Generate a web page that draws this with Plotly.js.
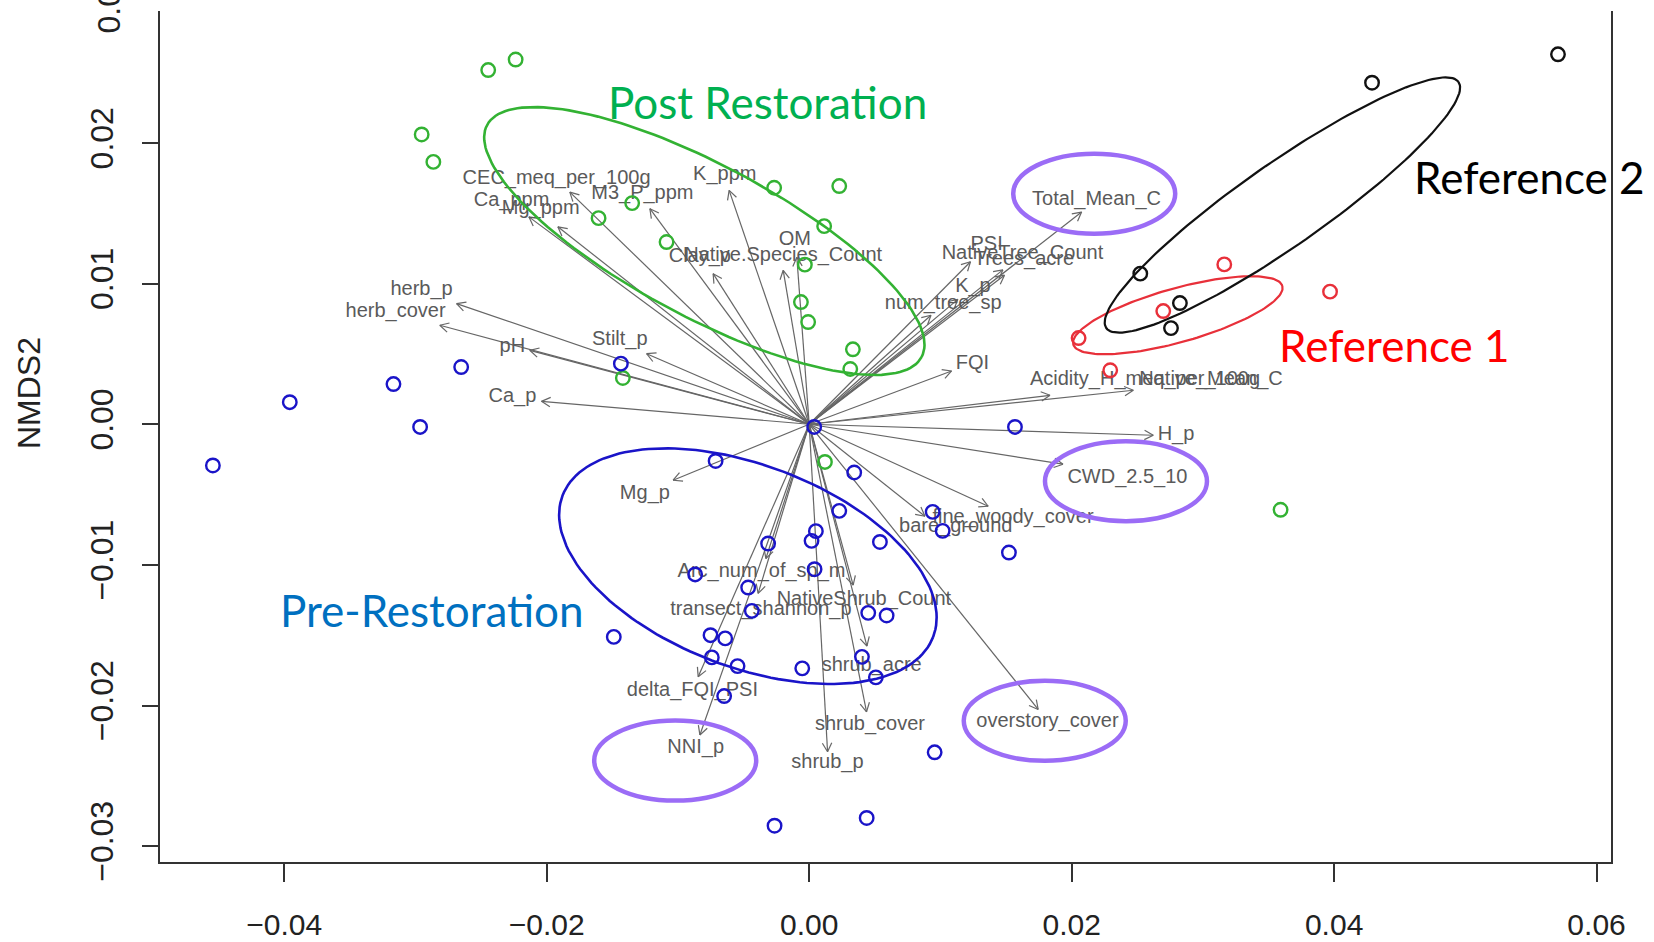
<!DOCTYPE html>
<html><head><meta charset="utf-8">
<script src="https://cdn.plot.ly/plotly-3.0.1.min.js"></script>
<style>html,body{margin:0;padding:0;background:#fff;overflow:hidden}#plot{width:1654px;height:942px}</style>
</head><body><div id="plot"></div>
<script>
// ---- site scores (NMDS1, NMDS2) ----
const postX = [-0.02446,-0.02237,-0.02953,-0.02864,-0.01605,-0.01349,-0.01087,-0.00267,0.00229,0.00114,-0.00033,-0.00063,-0.00008,0.00333,0.00313,-0.0142,0.0012,0.03592];
const postY = [0.02519,0.02594,0.02061,0.01866,0.01466,0.01573,0.01296,0.01682,0.01694,0.01409,0.01135,0.00869,0.00727,0.00533,0.00393,0.00329,-0.00268,-0.00608];
const preX = [-0.04544,-0.03958,-0.03168,-0.02965,-0.02652,-0.01435,0.00038,0.01568,-0.00713,0.00343,0.00229,0.00941,0.01017,0.01522,0.00051,0.00018,-0.00313,0.00539,-0.00869,0.00041,-0.00465,-0.00437,0.0045,0.0059,-0.01489,-0.00752,-0.0064,-0.00742,-0.00546,-0.00053,0.00402,0.00508,-0.00648,0.00956,-0.00264,0.00438];
const preY = [-0.00293,0.00157,0.00286,-0.00019,0.00407,0.00431,-0.00019,-0.00019,-0.00261,-0.00343,-0.00616,-0.00623,-0.00758,-0.00912,-0.0076,-0.00829,-0.00848,-0.00837,-0.01068,-0.01031,-0.01161,-0.01327,-0.01341,-0.0136,-0.01512,-0.015,-0.01523,-0.01658,-0.0172,-0.01736,-0.01654,-0.018,-0.01933,-0.02333,-0.02855,-0.028];
const ref1X = [0.03163,0.03969,0.02698,0.02053,0.02294];
const ref1Y = [0.01137,0.00943,0.00805,0.00613,0.00384];
const ref2X = [0.02523,0.02825,0.02757,0.04289,0.05706];
const ref2Y = [0.01071,0.00862,0.00684,0.02429,0.02631];

// ---- fitted environmental vectors ----
const vecNames = ["CEC_meq_per_100g","Ca_ppm","Mg_ppm","M3_P_ppm","K_ppm","Clay_p","Native.Species_Count","OM","herb_p","herb_cover","pH","Stilt_p","Ca_p","Mg_p","Total_Mean_C","PSI","NativeTree_Count","Trees_acre","K_p","num_tree_sp","FQI","Acidity_H_meq_per_100g","Native_Mean_C","H_p","CWD_2.5_10","fine_woody_cover","bare_ground","overstory_cover","Arc_num_of_sp_m","transect_shannon_p","NativeShrub_Count","shrub_acre","shrub_cover","shrub_p","NNI_p","delta_FQI_PSI"];
const vecX = [-0.01824,-0.02136,-0.01915,-0.01214,-0.0061,-0.00732,-0.00198,-0.00094,-0.02687,-0.02815,-0.02129,-0.01239,-0.0204,-0.01037,0.02076,0.01229,0.01476,0.01488,0.01133,0.00928,0.01085,0.01835,0.0247,0.02622,0.01934,0.01364,0.00882,0.01745,-0.0033,-0.00389,0.00335,0.0044,0.00437,0.0014,-0.00833,-0.00846];
const vecY = [0.01651,0.01475,0.01404,0.01533,0.01663,0.01071,0.01095,0.01187,0.00858,0.00704,0.00526,0.00502,0.00163,-0.00398,0.01509,0.01156,0.01098,0.0106,0.00888,0.00775,0.00379,0.00206,0.00242,-0.00078,-0.00284,-0.00583,-0.00654,-0.02028,-0.00955,-0.01203,-0.01144,-0.01578,-0.02045,-0.02329,-0.0221,-0.01796];
const labX = [-0.01925,-0.02268,-0.02046,-0.01271,-0.00643,-0.00833,-0.00198,-0.00109,-0.02954,-0.03152,-0.02262,-0.01443,-0.02262,-0.01252,0.0219,0.01352,0.01625,0.01636,0.01248,0.01021,0.01244,0.02559,0.03062,0.02795,0.02425,0.01553,0.01117,0.01816,-0.00363,-0.00368,0.00417,0.00476,0.00463,0.00139,-0.00865,-0.0089];
const labY = [0.01746,0.01585,0.01533,0.0164,0.0177,0.01189,0.01194,0.01308,0.00952,0.00798,0.00549,0.00602,0.00194,-0.00493,0.01592,0.01272,0.01208,0.01166,0.00974,0.00853,0.00431,0.00313,0.00313,-0.00078,-0.00384,-0.00668,-0.00734,-0.02116,-0.0105,-0.01322,-0.01251,-0.0172,-0.02139,-0.02412,-0.02305,-0.01896];

// ---- group ellipses: centre and two semi-axis vectors ----
const ellNames = ["Post Restoration","Pre-Restoration","Reference 1","Reference 2"];
const ellCx = [-0.00799,-0.004672,0.02809,0.03606];
const ellCy = [0.01303,-0.010092,0.007754,0.01559];
const ellAx = [0.016555,0.01412,0.007965,0.01342];
const ellAy = [-0.008252,-0.005028,0.002075,0.00875];
const ellBx = [-0.002729,-0.002746,0.000554,0.00181];
const ellBy = [-0.004762,-0.006706,-0.001848,-0.00242];

// ---- highlighted variables (purple rings) ----
const hiNames = ["Total_Mean_C","CWD_2.5_10","overstory_cover","NNI_p"];
const hiX = [0.02172,0.02414,0.01795,-0.01021];
const hiY = [0.0164,-0.00405,-0.02109,-0.02392];

// ---- group label texts ----
const groupText = ["Post Restoration","Reference 2","Reference 1","Pre-Restoration"];
const groupX = [-0.00315,0.05486,0.04457,-0.02875];
const groupY = [0.02289,0.01756,0.00561,-0.01322];

const xTicks = [-0.04,-0.02,0,0.02,0.04,0.06];
const yTicks = [-0.03,-0.02,-0.01,0,0.01,0.02];
const yTopTick = 0.03;  // partially visible label at the cropped top

const W=1654,H=942,M={l:160,r:43,t:11,b:80};
const xr=[-0.04947,0.0611], yr=[-0.03113,0.02939];
const kx=(W-M.l-M.r)/(xr[1]-xr[0]), ky=(H-M.t-M.b)/(yr[1]-yr[0]);

const colGreen='#33b233', colBlue='#1a14c8', colRed='#e8303a', colBlack='#111111';
const FONT='"Liberation Sans", Arial, Helvetica, sans-serif';

// arrows: shafts + open heads (head size defined in pixels)
const ax=[], ay=[];
const headL=10, headA=28*Math.PI/180;
for(let i=0;i<vecNames.length;i++){
  ax.push(0,vecX[i],null); ay.push(0,vecY[i],null);
  const px=vecX[i]*kx, py=-vecY[i]*ky, len=Math.hypot(px,py);
  const ux=-px/len, uy=-py/len;
  for(const s of [1,-1]){
    const c=Math.cos(s*headA), sn=Math.sin(s*headA);
    const bx=(ux*c-uy*sn)*headL, by=(ux*sn+uy*c)*headL;
    ax.push(vecX[i], vecX[i]+bx/kx, null);
    ay.push(vecY[i], vecY[i]-by/ky, null);
  }
}
const traces=[];
traces.push({x:ax,y:ay,mode:'lines',line:{color:'#666666',width:1.2},hoverinfo:'skip',showlegend:false});
traces.push({x:labX,y:labY,text:vecNames,mode:'text',textposition:'middle center',
  textfont:{family:FONT,size:20,color:'#5a5a5a'},hoverinfo:'skip',showlegend:false});

const ellCols=[colGreen,colBlue,colRed,colBlack];
const ellW=[2.6,2.6,2.2,2.2];
for(let g=0;g<ellNames.length;g++){
  const ex=[],ey=[];
  for(let k=0;k<=160;k++){const t=2*Math.PI*k/160;
    ex.push(ellCx[g]+ellAx[g]*Math.cos(t)+ellBx[g]*Math.sin(t));
    ey.push(ellCy[g]+ellAy[g]*Math.cos(t)+ellBy[g]*Math.sin(t));}
  traces.push({x:ex,y:ey,mode:'lines',line:{color:ellCols[g],width:ellW[g]},hoverinfo:'skip',showlegend:false,name:ellNames[g]});
}
const mk=(c)=>({symbol:'circle-open',size:13.5,color:c,line:{color:c,width:2.4}});
traces.push({x:postX,y:postY,mode:'markers',marker:mk(colGreen),showlegend:false,name:'Post'});
traces.push({x:preX,y:preY,mode:'markers',marker:mk(colBlue),showlegend:false,name:'Pre'});
traces.push({x:ref1X,y:ref1Y,mode:'markers',marker:mk(colRed),showlegend:false,name:'Ref1'});
traces.push({x:ref2X,y:ref2Y,mode:'markers',marker:mk(colBlack),showlegend:false,name:'Ref2'});

const shapes=hiNames.map((n,i)=>({type:'circle',xref:'x',yref:'y',xsizemode:'pixel',ysizemode:'pixel',
  xanchor:hiX[i],yanchor:hiY[i],x0:-81,x1:81,y0:-40,y1:40,line:{color:'#9b6cf6',width:4.5}}));

const groupCols=['#00b050','#000000','#ff0000','#0070c0'];
const annotations=groupText.map((t,i)=>({x:groupX[i],y:groupY[i],xref:'x',yref:'y',text:t,showarrow:false,
  xanchor:'center',yanchor:'middle',font:{family:'Lato, "Open Sans", sans-serif',size:44,color:groupCols[i]}}));
annotations.push({xref:'paper',yref:'paper',x:0,y:(H-M.b-393)/(H-M.t-M.b),xshift:-131,text:'NMDS2',textangle:-90,
  showarrow:false,xanchor:'center',yanchor:'middle',font:{family:FONT,size:32,color:'#222'}});
annotations.push({xref:'paper',yref:'paper',x:0,y:(yTopTick-yr[0])/(yr[1]-yr[0]),xshift:-51,text:yTopTick.toFixed(2),textangle:-90,
  showarrow:false,xanchor:'center',yanchor:'middle',font:{family:FONT,size:32,color:'#222'}});

const layout={width:W,height:H,margin:M,paper_bgcolor:'#fff',plot_bgcolor:'#fff',showlegend:false,
  xaxis:{range:xr,tickvals:xTicks,tickformat:'.2f',showgrid:false,zeroline:false,showline:true,linecolor:'#333',linewidth:2,
    ticks:'outside',ticklen:18,tickwidth:2,tickcolor:'#333',ticklabelstandoff:17,tickfont:{family:FONT,size:30,color:'#222'}},
  yaxis:{range:yr,tickvals:yTicks,tickformat:'.2f',showgrid:false,zeroline:false,showline:true,mirror:true,linecolor:'#333',linewidth:2,
    ticks:'outside',ticklen:16,tickwidth:2,tickcolor:'#333',tickangle:-90,ticklabelstandoff:16,tickfont:{family:FONT,size:32,color:'#222'}},
  shapes:shapes,annotations:annotations};
Plotly.newPlot('plot',traces,layout,{displayModeBar:false,staticPlot:true});
</script></body></html>
